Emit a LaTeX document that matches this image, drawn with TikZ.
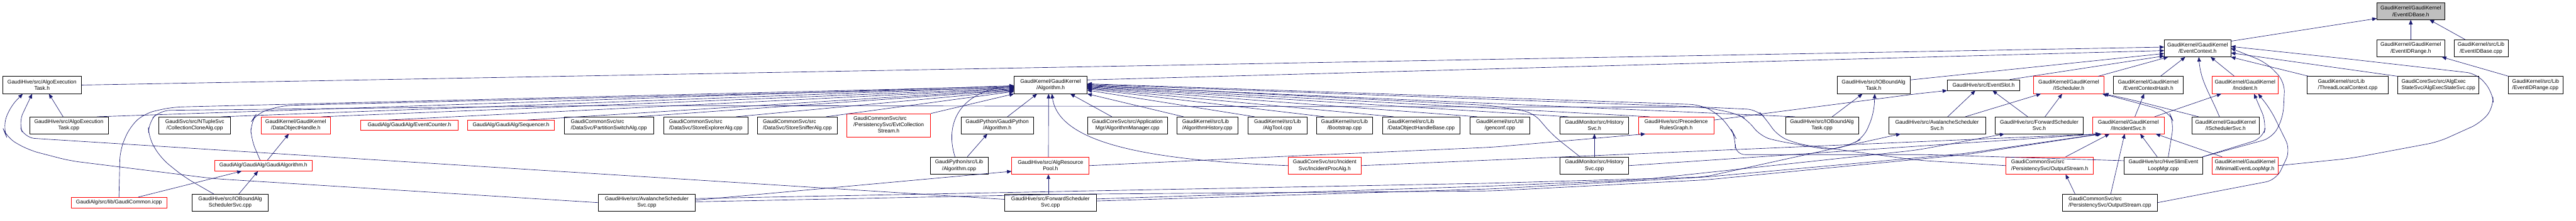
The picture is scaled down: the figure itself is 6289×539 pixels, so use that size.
\documentclass[tikz,border=0pt]{standalone}
\usepackage{fontspec}
\setmainfont{Liberation Sans}
\usetikzlibrary{arrows.meta}
\definecolor{edgec}{HTML}{191970}
\definecolor{redc}{HTML}{FF0000}
\definecolor{rootc}{HTML}{BFBFBF}
\newcommand{\lblfont}{\fontsize{13}{15.6}\selectfont}
\begin{document}
\begin{tikzpicture}[x=1pt,y=-1pt,
  box/.style={draw=black, fill=white, line width=1pt, inner sep=0pt, align=center, font=\lblfont},
  lbox/.style={box, align=left},
  rbox/.style={box, draw=redc},
  rlbox/.style={lbox, draw=redc},
  wh/.style 2 args={minimum width=#1pt, minimum height=#2pt},
  edge/.style={draw=edgec, line width=1pt, -{Triangle[length=11pt,width=9pt]}},
  redge/.style={edge, rounded corners=25pt}]
\useasboundingbox[fill=white] (0,0) rectangle (6289,539);
% row 0-1
\node[box, fill=rootc, wh={165}{41}] (EIDB) at (5885.5,27.5) {GaudiKernel/GaudiKernel\\/EventIDBase.h};
\node[box, wh={162}{42}] (ECtx) at (5365,118) {GaudiKernel/GaudiKernel\\/EventContext.h};
\node[box, wh={165}{42}] (EIDR) at (5885.5,118) {GaudiKernel/GaudiKernel\\/EventIDRange.h};
\node[box, wh={132}{42}] (EIDBcpp) at (6057,118) {GaudiKernel/src/Lib\\/EventIDBase.cpp};
% row 2
\node[box, wh={193}{42}] (AETh) at (102.5,208) {GaudiHive/src/AlgoExecution\\Task.h};
\node[box, wh={178}{42}] (Alg) at (2565,208) {GaudiKernel/GaudiKernel\\/Algorithm.h};
\node[box, wh={178}{42}] (IOBTh) at (4574,208) {GaudiHive/src/IOBoundAlg\\Task.h};
\node[box, wh={177}{26}] (ESlot) at (4842.5,208) {GaudiHive/src/EventSlot.h};
\node[rbox, wh={171}{42}] (ISch) at (5050.5,208) {GaudiKernel/GaudiKernel\\/IScheduler.h};
\node[box, wh={171}{42}] (ECH) at (5244.5,208) {GaudiKernel/GaudiKernel\\/EventContextHash.h};
\node[rbox, wh={162}{42}] (Inc) at (5481,208) {GaudiKernel/GaudiKernel\\/Incident.h};
\node[lbox, wh={199}{42}] (TLC) at (5731.5,208) {GaudiKernel/src/Lib\\/ThreadLocalContext.cpp};
\node[lbox, wh={198}{42}] (AESS) at (5953,208) {GaudiCoreSvc/src/AlgExec\\StateSvc/AlgExecStateSvc.cpp};
\node[lbox, wh={133}{42}] (EIDRcpp) at (6190.5,208) {GaudiKernel/src/Lib\\/EventIDRange.cpp};
% row 3
\node[box, wh={192}{41}] (AETcpp) at (168,306.5) {GaudiHive/src/AlgoExecution\\Task.cpp};
\node[box, wh={175}{41}] (CCA) at (475.5,306.5) {GaudiSvc/src/NTupleSvc\\/CollectionCloneAlg.cpp};
\node[rbox, wh={170}{41}] (DOH) at (722,306.5) {GaudiKernel/GaudiKernel\\/DataObjectHandle.h};
\node[rbox, wh={237}{25}] (ECnt) at (999.5,306.5) {GaudiAlg/GaudiAlg/EventCounter.h};
\node[rbox, wh={211}{25}] (Seq) at (1247.5,306.5) {GaudiAlg/GaudiAlg/Sequencer.h};
\node[lbox, wh={219}{41}] (PSA) at (1486.5,306.5) {GaudiCommonSvc/src\\/DataSvc/PartitionSwitchAlg.cpp};
\node[lbox, wh={206}{41}] (SEA) at (1723,306.5) {GaudiCommonSvc/src\\/DataSvc/StoreExplorerAlg.cpp};
\node[lbox, wh={195}{41}] (SSA) at (1946.5,306.5) {GaudiCommonSvc/src\\/DataSvc/StoreSnifferAlg.cpp};
\node[rbox, wh={205}{57}] (ECS) at (2169.5,306.5) {\begin{tabular}{@{}l@{}}GaudiCommonSvc/src\\/PersistencySvc/EvtCollection\\\multicolumn{1}{@{}c@{}}{Stream.h}\end{tabular}};
\node[box, wh={177}{41}] (GPyH) at (2434.5,306.5) {GaudiPython/GaudiPython\\/Algorithm.h};
\node[box, wh={195}{41}] (AMgr) at (2752.5,306.5) {GaudiCoreSvc/src/Application\\Mgr/AlgorithmManager.cpp};
\node[lbox, wh={149}{41}] (AHist) at (2947.5,306.5) {GaudiKernel/src/Lib\\/AlgorithmHistory.cpp};
\node[box, wh={144}{41}] (ATool) at (3119,306.5) {GaudiKernel/src/Lib\\/AlgTool.cpp};
\node[box, wh={137}{41}] (Boot) at (3282.5,306.5) {GaudiKernel/src/Lib\\/Bootstrap.cpp};
\node[lbox, wh={189}{41}] (DOHB) at (3469.5,306.5) {GaudiKernel/src/Lib\\/DataObjectHandleBase.cpp};
\node[box, wh={145}{41}] (genc) at (3661.5,306.5) {GaudiKernel/src/Util\\/genconf.cpp};
\node[box, wh={167}{41}] (HSh) at (3892.5,306.5) {GaudiMonitor/src/History\\Svc.h};
\node[rbox, wh={184}{41}] (PRG) at (4092,306.5) {GaudiHive/src/Precedence\\RulesGraph.h};
\node[box, wh={178}{41}] (IOBTcpp) at (4448,306.5) {GaudiHive/src/IOBoundAlg\\Task.cpp};
\node[box, wh={236}{41}] (ASSh) at (4729,306.5) {GaudiHive/src/AvalancheScheduler\\Svc.h};
\node[box, wh={215}{41}] (FSSh) at (4978.5,306.5) {GaudiHive/src/ForwardScheduler\\Svc.h};
\node[rbox, wh={174}{41}] (IIS) at (5196,306.5) {GaudiKernel/GaudiKernel\\/IIncidentSvc.h};
\node[box, wh={163}{41}] (ISS) at (5433.5,306.5) {GaudiKernel/GaudiKernel\\/ISchedulerSvc.h};
% row 4
\node[rbox, wh={238}{26}] (GAlg) at (643,405) {GaudiAlg/GaudiAlg/GaudiAlgorithm.h};
\node[box, wh={141}{42}] (GPyCpp) at (2341.5,405) {GaudiPython/src/Lib\\/Algorithm.cpp};
\node[rbox, wh={189}{42}] (ARP) at (2564.5,405) {GaudiHive/src/AlgResource\\Pool.h};
\node[rbox, wh={178}{42}] (IPA) at (3234,405) {GaudiCoreSvc/src/Incident\\Svc/IncidentProcAlg.h};
\node[box, wh={167}{42}] (HScpp) at (3892.5,405) {GaudiMonitor/src/History\\Svc.cpp};
\node[rlbox, wh={214}{42}] (OSh) at (5004,405) {GaudiCommonSvc/src\\/PersistencySvc/OutputStream.h};
\node[box, wh={191}{42}] (HSEL) at (5281.5,405) {GaudiHive/src/HiveSlimEvent\\LoopMgr.cpp};
\node[rbox, wh={162}{42}] (MELM) at (5481,405) {GaudiKernel/GaudiKernel\\/MinimalEventLoopMgr.h};
% row 5
\node[rbox, wh={233}{26}] (GCom) at (290.5,495.5) {GaudiAlg/src/lib/GaudiCommon.icpp};
\node[box, wh={186}{41}] (IOBSS) at (562,495.5) {GaudiHive/src/IOBoundAlg\\SchedulerSvc.cpp};
\node[box, wh={236}{41}] (ASScpp) at (1579,495.5) {GaudiHive/src/AvalancheScheduler\\Svc.cpp};
\node[box, wh={223}{41}] (FSScpp) at (2564.5,495.5) {GaudiHive/src/ForwardScheduler\\Svc.cpp};
\node[lbox, wh={232}{41}] (OScpp) at (5151,495.5) {GaudiCommonSvc/src\\/PersistencySvc/OutputStream.cpp};

% ---- edges to EventIDBase / EventIDRange
\draw[edge] (ECtx.12) -- (EIDB.192);
\draw[edge] (EIDR.north) -- (EIDB.south);
\draw[edge] ([xshift=-39pt]EIDBcpp.north) -- ([xshift=46pt]EIDB.south);
\draw[edge] ([xshift=-66pt]EIDRcpp.north) -- ([xshift=76pt]EIDR.south);
% ---- edges to EventContext
\draw[edge] (AETh.east) -- (ECtx.178);
\draw[edge] (Alg.8) -- (ECtx.184);
\draw[edge] (IOBTh.8) -- (ECtx.189);
\draw[edge] ([xshift=64pt]ESlot.north) -- (ECtx.193);
\draw[edge] ([xshift=72pt]ISch.north) -- ([xshift=-72pt]ECtx.south);
\draw[edge] ([xshift=30pt]ECH.north) -- ([xshift=-30pt]ECtx.south);
\draw[edge] ([xshift=-26pt]Inc.north) -- ([xshift=32pt]ECtx.south);
\draw[edge] ([xshift=-15pt]ISS.north) .. controls +(-25,-60) and +(5,60) .. ([xshift=3pt]ECtx.south);
\draw[edge] ([xshift=-95pt]TLC.north) -- (ECtx.south east);
\draw[edge] (AESS.north west) -- (ECtx.352);
\draw[redge] (MELM.east) -- (5740,387) -- (5953,347) -- (6057,300) -- (6088,262) -- (6085,225) -- (6047,180) -- (5740,145) -- (ECtx.3);
\draw[redge] (HSEL.north east) -- (5548,337) -- (5574,287) -- (5578,200) -- (5533,153) -- (ECtx.0);
% ---- Incident, IIncidentSvc, IScheduler, EventContextHash
\draw[redge] (HSEL.north east) -- (5525,338) -- (5533,300) -- ([xshift=22pt]Inc.south);
\draw[redge] (OScpp.east) -- (5557,440) -- (5592,367) -- (5543,267) -- ([xshift=32pt]Inc.south);
\draw[edge] ([xshift=64pt]IIS.north) -- ([xshift=-58pt]Inc.south);
\draw[edge] ([xshift=-15pt]HSEL.north) -- ([xshift=29pt]IIS.south);
\draw[edge] ([xshift=-56pt]MELM.north) -- ([xshift=67pt]IIS.south);
\draw[edge] ([xshift=16pt]IIS.north) -- ([xshift=-10pt]ECH.south);
\draw[redge] ([xshift=-66pt]ISS.north) -- (5200,243) -- (ISch.south east);
\draw[redge] ([xshift=12pt]HSEL.north) -- (5307,300) -- (5295,273) -- (5200,247) -- ([xshift=-4pt]ISch.south east);
\draw[edge] ([xshift=26pt]ASSh.north) -- ([xshift=-20pt]ESlot.south);
\draw[edge] ([xshift=-28pt]FSSh.north) -- ([xshift=22pt]ESlot.south);
\draw[edge] ([xshift=69pt]ASSh.north) -- ([xshift=-68pt]ISch.south);
\draw[edge] ([xshift=14pt]FSSh.north) -- ([xshift=-16pt]ISch.south);
\draw[redge] (PRG.8) -- (4683,229) -- (ESlot.south west);
\draw[edge] ([xshift=25pt]IOBTcpp.north) -- ([xshift=-27pt]IOBTh.south);
\draw[edge] ([xshift=-85pt]OScpp.north) -- ([xshift=39pt]OSh.south);
\draw[edge] ([xshift=2pt]OScpp.north) -- ([xshift=-9pt]IIS.south);
\draw[edge] ([xshift=39pt]OSh.north) -- ([xshift=-46pt]IIS.south);
\draw[edge] (HScpp.east) -- ([xshift=-69pt]IIS.south);
\draw[edge] (IPA.east) -- ([xshift=-69pt]IIS.south);
% ---- scheduler cpp files
\draw[redge] ([yshift=8pt]FSScpp.west) -- (60,337) -- (45,300) -- ([xshift=-24pt]AETh.south);
\draw[redge] (ASScpp.west) -- (523,437) -- (170,393) -- (70,367) -- (17,337) -- (7,313) -- (23,263) -- ([xshift=-47pt]AETh.south);
\draw[edge] ([xshift=-14pt]AETcpp.north) -- ([xshift=17pt]AETh.south);
\draw[edge] ([yshift=6pt]ASScpp.east) -- ([yshift=-14pt]ARP.west);
\draw[edge] ([xshift=-5pt]FSScpp.north) -- ([xshift=-5pt]ARP.south);
\draw[redge] ([yshift=10pt]ASScpp.east) -- (2600,468) -- (3640,448) -- (4160,433) -- ([xshift=-89pt]ASSh.south);
\draw[redge] ([yshift=9pt]FSScpp.east) -- (3640,455) -- (4000,440) -- (4680,367) -- ([xshift=-85pt]FSSh.south);
\draw[redge] ([yshift=4pt]FSScpp.east) -- (3640,462) -- (4163,433) -- (4800,375) -- ([xshift=-67pt]IIS.south);
\draw[redge] ([yshift=2pt]ASScpp.east) -- (2600,475) -- (3640,467) -- (4163,440) -- (4800,378) -- ([xshift=-65pt]IIS.south);
\draw[redge] (ARP.east) -- (3123,383) -- (3643,360) -- ([xshift=-75pt]PRG.south);
% ---- GaudiAlgorithm, DataObjectHandle, GaudiPython
\draw[edge] ([xshift=47pt]GCom.north) -- ([xshift=-53pt]GAlg.south);
\draw[edge] ([xshift=21pt]IOBSS.north) -- ([xshift=-13pt]GAlg.south);
\draw[edge] ([xshift=10pt]GAlg.north) -- ([xshift=-17pt]DOH.south);
\draw[edge] ([xshift=20pt]GPyCpp.north) -- ([xshift=-24pt]GPyH.south);
\draw[edge] ([xshift=25pt]GPyH.north) -- ([xshift=-33pt]Alg.south);
\draw[edge] ([xshift=-10pt]GPyCpp.north) .. controls (2305,300) and (2345,222) .. (Alg.181);
\draw[edge] ([xshift=-5pt]ARP.north) -- ([xshift=-5pt]Alg.south);
\draw[edge] (IPA.west) .. controls (2800,392) and (2585,350) .. ([xshift=3pt]Alg.south);
\draw[edge] (HScpp.north) -- (HSh.south);
% ---- left bundle into Algorithm.h
\draw[edge] ([xshift=69pt]AETcpp.north) -- (Alg.181);
\draw[redge] (GCom.north) -- (293,367) -- (317,310) -- (353,277) -- (420,262) -- (Alg.182);
\draw[edge] ([xshift=65pt]CCA.north) -- (Alg.183);
\draw[redge] ([xshift=-8pt]GAlg.north) -- (613,340) -- (612,300) -- (627,277) -- (690,258) -- (Alg.184);
\draw[edge] ([xshift=63pt]DOH.north) -- (Alg.185);
\draw[edge] ([xshift=-52pt]ECnt.north) -- (Alg.186);
\draw[edge] ([xshift=40pt]Seq.north) -- (Alg.187);
\draw[edge] ([xshift=70pt]PSA.north) -- (Alg.188);
\draw[edge] ([xshift=74pt]SEA.north) -- (Alg.189);
\draw[edge] ([xshift=70pt]SSA.north) -- (Alg.190);
\draw[edge] (ECS.north east) -- (Alg.south west);
% ---- right bundle into Algorithm.h
\draw[edge] ([xshift=-38pt]AMgr.north) -- ([xshift=48pt]Alg.south);
\draw[edge] ([xshift=-58pt]AHist.north) -- (Alg.south east);
\draw[edge] ([xshift=-56pt]ATool.north) -- (Alg.352);
\draw[edge] ([xshift=-49pt]Boot.north) -- (Alg.354);
\draw[edge] ([xshift=-67pt]DOHB.north) -- (Alg.355);
\draw[edge] ([xshift=-55pt]genc.north) -- (Alg.356);
\draw[edge] ([xshift=-64pt]HSh.north) -- (Alg.357);
\draw[edge] ([xshift=-65pt]PRG.north) -- (Alg.358);
\draw[edge] ([xshift=-66pt]IOBTcpp.north) -- (Alg.359);
\draw[redge] ([xshift=-35pt]HScpp.north) -- (3790,330) -- (3743,275) -- (3640,258) -- (Alg.0);
\draw[redge] (OSh.west) -- (4683,392) -- (4393,353) -- (4340,333) -- (4313,293) -- (4290,268) -- (4160,262) -- (Alg.1);
\draw[redge] ([yshift=12pt]HSEL.west) -- (4700,378) -- (4235,378) -- (4238,338) -- (4227,317) -- (4193,277) -- (4150,256) -- (Alg.2);
% ---- IOBoundAlgSchedulerSvc -> IOBoundAlgTask.h (long route)
\draw[redge] ([xshift=-40pt]IOBSS.north) -- (450,433) -- (393,387) -- (363,337) -- (362,300) -- (390,270) -- (1500,258) -- (4160,262) -- (4237,277) -- (4267,293) -- (4297,333) -- (4340,345) -- (4470,367) -- (4520,353) -- (4550,337) -- (4575,277) -- ([xshift=3pt]IOBTh.south);
\end{tikzpicture}
\end{document}
